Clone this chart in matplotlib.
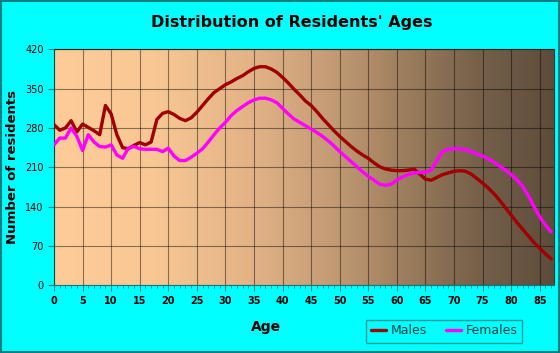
import numpy as np
import matplotlib
matplotlib.use("Agg")
import matplotlib.pyplot as plt
from matplotlib.colors import LinearSegmentedColormap

ages = list(range(0, 88))

males = [286, 276, 280, 293, 273, 287, 281, 275, 268, 320,
         305, 268, 245, 243, 249, 254, 250, 255, 295, 306,
         309, 304, 297, 293, 298, 308, 320, 332, 343, 350,
         357, 362, 368, 373, 380, 386, 389, 389, 385, 379,
         370, 360, 349, 339, 328, 320, 309, 297, 286, 275,
         265, 256, 247, 239, 232, 226, 218, 211, 207, 205,
         204, 204, 205, 207, 198, 189, 187, 192, 197, 200,
         203, 204, 203, 198, 190, 182, 173, 163, 151, 138,
         125, 112, 100, 88, 76, 66, 56, 47]

females = [250, 262, 262, 280, 265, 240, 268, 255, 247, 246,
           250, 232, 226, 244, 247, 243, 242, 242, 242, 238,
           244, 230, 222, 222, 228, 235, 243, 255, 268, 280,
           290, 302, 311, 318, 325, 330, 333, 333, 330, 325,
           315, 305, 296, 290, 284, 278, 272, 265, 257, 248,
           238, 229, 220, 211, 202, 194, 187, 180, 178, 180,
           187, 193, 197, 200, 201, 201, 205, 222, 238, 242,
           243, 243, 241, 238, 234, 230, 225, 219, 212, 205,
           197, 188, 176, 160, 140, 122, 107, 95]

x_ticks = list(range(0, 90, 5))
y_ticks = [0, 70, 140, 210, 280, 350, 420]

teal = "#008080"
fig = plt.figure(figsize=(5.6, 3.53), dpi=100, facecolor="#00FFFF")
fig.patches.append(plt.Rectangle((0.001, 0.002), 0.997, 0.995, transform=fig.transFigure,
                                 fill=False, edgecolor=teal, linewidth=1.5))
ax = fig.add_axes([54 / 560, 1 - 285.3 / 353, 500 / 560, (285.3 - 49.3) / 353])

xmax = 87.5
cmap = LinearSegmentedColormap.from_list("bg", [
    (0.0, "#FFCC99"), (0.2, "#F8C793"), (0.4, "#E2B286"), (0.55, "#C59C76"),
    (0.7, "#9E7E5E"), (0.85, "#76604A"), (1.0, "#5E4C3B")])
grad = np.linspace(0, 1, 256).reshape(1, -1)
ax.imshow(grad, cmap=cmap, aspect="auto", extent=[0, xmax, 0, 420], zorder=0)

ax.plot(ages, males, color="#A00000", linewidth=2.4, label="Males", zorder=3,
        solid_capstyle="round", solid_joinstyle="round")
ax.plot(ages, females, color="#FF00FF", linewidth=2.4, label="Females", zorder=3,
        solid_capstyle="round", solid_joinstyle="round")

ax.set_xlim(0, xmax)
ax.set_ylim(0, 420)
ax.set_xticks(x_ticks)
ax.set_xticks(range(0, 88), minor=True)
ax.set_yticks(y_ticks)
ax.grid(True, color="black", alpha=0.45, linewidth=0.8, zorder=1)
ax.set_axisbelow(False)
for s in ["top", "right"]:
    ax.spines[s].set_color("#333333")
    ax.spines[s].set_linewidth(0.8)
for s in ["left", "bottom"]:
    ax.spines[s].set_color(teal)
ax.tick_params(axis="both", colors=teal, labelcolor="black", labelsize=7, length=4)
ax.tick_params(axis="x", which="minor", colors=teal, length=2)
for lbl in ax.get_xticklabels():
    lbl.set_fontweight("bold")

ax.set_xlabel("Age", fontsize=10, fontweight="bold")
ax.xaxis.set_label_coords((266 - 54) / 500, -(320 - 285.3) / 236)
ax.set_ylabel("Number of residents", fontsize=9.5, fontweight="bold")
ax.yaxis.set_label_coords(-(54 - 19) / 500, 0.5)
fig.text(292 / 560, 1 - 23 / 353, "Distribution of Residents' Ages", ha="center", va="center",
         fontsize=11.5, fontweight="bold")

leg = ax.legend(loc="center", bbox_to_anchor=(444 / 560, 1 - 331 / 353),
                bbox_transform=fig.transFigure, ncol=2, frameon=True, fancybox=False,
                fontsize=9, handlelength=1.2, columnspacing=1.5, borderpad=0.4,
                handletextpad=0.4)
leg.get_frame().set_facecolor("#00FFFF")
leg.get_frame().set_edgecolor(teal)
for t in leg.get_texts():
    t.set_color("#004040")

fig.savefig("out.png", dpi=100, facecolor=fig.get_facecolor())
